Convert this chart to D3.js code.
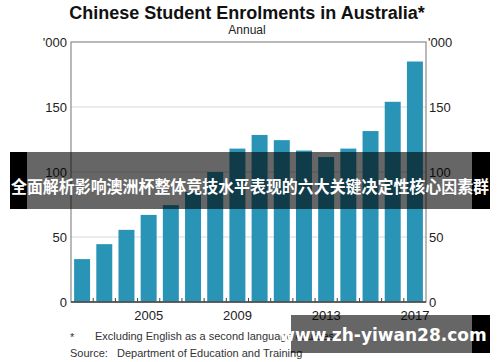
<!DOCTYPE html>
<html>
<head>
<meta charset="utf-8">
<script src="https://cdn.jsdelivr.net/npm/d3@7"></script>
<style>
  body { margin: 0; background: #fff; }
  svg { display: block; font-family: Arial, "Liberation Sans", sans-serif; }
</style>
</head>
<body>
<div id="chart"></div>
<script>
// data ('000 students)
const years = [2002, 2003, 2004, 2005, 2006, 2007, 2008, 2009, 2010, 2011, 2012, 2013, 2014, 2015, 2016, 2017];
const enrolments = [33, 44.5, 55.5, 67, 74.5, 84.5, 100, 118, 128.5, 124.5, 116.5, 111.5, 118, 131.5, 154, 185];
const yTicks = [0, 50, 100, 150];
const xLabels = [2005, 2009, 2013, 2017];

const W = 500, H = 362;
const margin = { top: 42, right: 74, bottom: 60, left: 71 };
const width = W - margin.left - margin.right,
  height = H - margin.top - margin.bottom;

const svg = d3.select("#chart").append("svg")
  .attr("width", W).attr("height", H);

const g = svg.append("g")
  .attr("transform", "translate(" + margin.left + "," + margin.top + ")");

const x = d3.scaleBand().domain(years).range([0, width]).paddingInner(0.28).paddingOuter(0.14);
const y = d3.scaleLinear().domain([0, 200]).range([height, 0]);

// gridlines
g.selectAll(".grid")
  .data(yTicks.filter(d => d > 0))
  .join("line")
  .attr("x1", 0).attr("x2", width)
  .attr("y1", d => y(d)).attr("y2", d => y(d))
  .attr("stroke", "#d9d9d9").attr("stroke-width", 1);

// bars
g.selectAll(".bar")
  .data(years)
  .join("rect")
  .attr("x", d => x(d))
  .attr("width", x.bandwidth())
  .attr("y", (d, i) => y(enrolments[i]))
  .attr("height", (d, i) => height - y(enrolments[i]))
  .attr("fill", "#2994b6");

// frame
g.append("rect")
  .attr("x", 0).attr("y", 0)
  .attr("width", width).attr("height", height)
  .attr("fill", "none").attr("stroke", "#8a8a8a").attr("stroke-width", 1.2);

g.append("line")
  .attr("x1", 0).attr("x2", width)
  .attr("y1", height).attr("y2", height)
  .attr("stroke", "#444").attr("stroke-width", 1.5);

// year ticks between bars
const step = x.step();
g.selectAll(".xt")
  .data(years.slice(1))
  .join("line")
  .attr("x1", d => x(d) - step * 0.14)
  .attr("x2", d => x(d) - step * 0.14)
  .attr("y1", height).attr("y2", height - 4)
  .attr("stroke", "#444");

// y axis labels both sides
const yAxisL = d3.axisLeft(y).tickValues(yTicks).tickSize(0).tickPadding(4);
const yAxisR = d3.axisRight(y).tickValues(yTicks).tickSize(0).tickPadding(3);
const gl = g.append("g").call(yAxisL);
const gr = g.append("g").attr("transform", "translate(" + width + ",0)").call(yAxisR);
[gl, gr].forEach(a => {
  a.select(".domain").remove();
  a.selectAll("text").attr("font-size", 13).attr("fill", "#222")
    .attr("font-family", "Arial, 'Liberation Sans', sans-serif");
});

g.append("text").text("'000").attr("x", -4).attr("y", 5)
  .attr("text-anchor", "end").attr("font-size", 13).attr("fill", "#222");
g.append("text").text("'000").attr("x", width + 2).attr("y", 5)
  .attr("text-anchor", "start").attr("font-size", 13).attr("fill", "#222");

// x labels
g.selectAll(".xl")
  .data(xLabels)
  .join("text")
  .attr("x", d => x(d) + x.bandwidth() / 2)
  .attr("y", height + 18)
  .attr("text-anchor", "middle")
  .attr("font-size", 13).attr("fill", "#222")
  .text(d => d);

// titles
svg.append("text").text("Chinese Student Enrolments in Australia*")
  .attr("x", 247).attr("y", 19).attr("text-anchor", "middle")
  .attr("font-size", 18).attr("font-weight", "bold").attr("fill", "#111");
svg.append("text").text("Annual")
  .attr("x", 247).attr("y", 34).attr("text-anchor", "middle")
  .attr("font-size", 12).attr("fill", "#222");

// notes
svg.append("text").text("*").attr("x", 70).attr("y", 341).attr("font-size", 11).attr("fill", "#333");
svg.append("text").text("Excluding English as a second language courses")
  .attr("x", 95).attr("y", 340).attr("font-size", 11).attr("fill", "#333");
svg.append("text").text("Source:").attr("x", 70).attr("y", 357).attr("font-size", 11).attr("fill", "#333");
svg.append("text").text("Department of Education and Training")
  .attr("x", 117).attr("y", 357).attr("font-size", 11).attr("fill", "#333");

// overlay banner
svg.append("rect").attr("x", 10).attr("y", 152).attr("width", 480).attr("height", 57)
  .attr("fill", "#000").attr("fill-opacity", 0.6);
svg.append("rect").attr("x", 10).attr("y", 152).attr("width", 17).attr("height", 57).attr("fill", "#000");
svg.append("rect").attr("x", 472).attr("y", 152).attr("width", 18).attr("height", 57).attr("fill", "#000");
svg.append("text").text("全面解析影响澳洲杯整体竞技水平表现的六大关键决定性核心因素群")
  .attr("x", 250).attr("y", 193).attr("text-anchor", "middle")
  .attr("font-family", "'Noto Sans CJK SC', sans-serif")
  .attr("font-size", 16.5).attr("font-weight", "bold").attr("fill", "#fff")
  .attr("textLength", 478).attr("lengthAdjust", "spacingAndGlyphs");

// bottom watermark
svg.append("rect").attr("x", 291).attr("y", 315).attr("width", 199).attr("height", 38)
  .attr("fill", "#000").attr("fill-opacity", 0.6);
svg.append("rect").attr("x", 472).attr("y", 315).attr("width", 18).attr("height", 38).attr("fill", "#000");
svg.append("text").text("www.zh-yiwan28.com")
  .attr("x", 383).attr("y", 341).attr("text-anchor", "middle")
  .attr("font-family", "'DejaVu Sans', sans-serif")
  .attr("font-size", 17).attr("font-weight", "bold").attr("fill", "#fff");
</script>
</body>
</html>
